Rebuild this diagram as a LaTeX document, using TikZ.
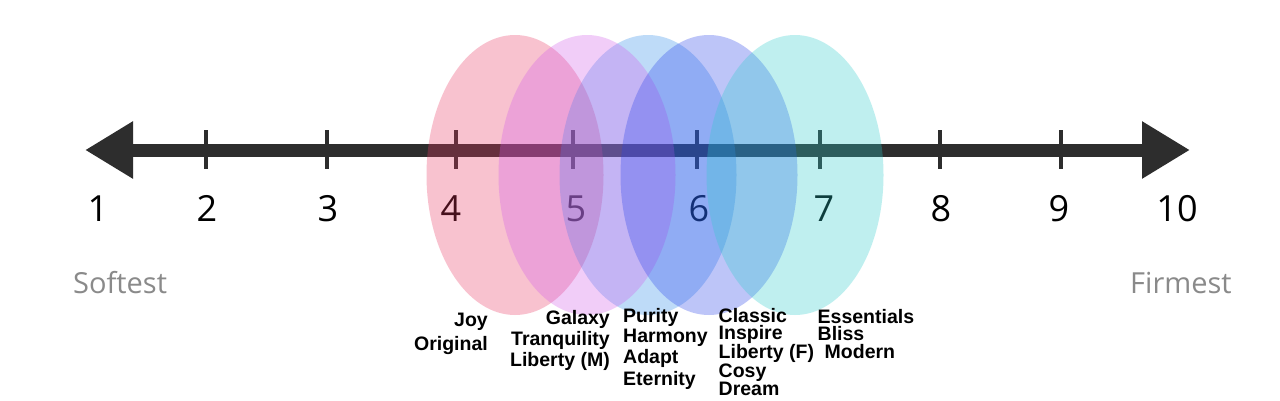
\documentclass[tikz,border=0pt]{standalone}
\usepackage{fontspec}
\setmainfont{Open Sans}
\newfontfamily\labelfont{Liberation Sans}
\usetikzlibrary{arrows.meta,shapes.geometric}

\definecolor{axisgray}{RGB}{45,45,45}
\definecolor{endgray}{RGB}{138,138,138}
\definecolor{bandpink}{RGB}{235,55,98}
\definecolor{bandviolet}{RGB}{210,90,235}
\definecolor{bandsky}{RGB}{42,138,232}
\definecolor{bandblue}{RGB}{38,65,235}
\definecolor{bandcyan}{RGB}{45,205,205}

\begin{document}
\begin{tikzpicture}[x=1pt,y=-1pt]

		\tikzstyle{axis}=[line width=13pt,color=axisgray,arrows={Triangle[length=48pt,width=54pt]-Triangle[length=48pt,width=54pt]}]
		\tikzstyle{tick}=[line width=4pt,color=axisgray]
		\tikzstyle{number}=[font=\fontsize{36}{36}\selectfont,anchor=base,inner sep=0pt]
		\tikzstyle{endlabel}=[font=\fontsize{29}{29}\selectfont,text=endgray,anchor=base west,inner sep=0pt]
		\tikzstyle{band}=[ellipse,minimum width=177pt,minimum height=280pt,inner sep=0pt,fill opacity=0.3]
		\tikzstyle{mattress}=[font=\labelfont\bfseries\fontsize{19.5}{17.5}\selectfont,inner sep=0pt]
		
		\fill[white] (0,0) rectangle (1280,400);
		\useasboundingbox (0,0) rectangle (1280,400);
		
		\coordinate (softend) at (85,150);
		\coordinate (firmend) at (1190,150);
		\draw[axis] (softend) -- (firmend);
		
		\draw[tick] (206,130) -- (206,169);
		\draw[tick] (327,130) -- (327,169);
		\draw[tick] (456,130) -- (456,169);
		\draw[tick] (573,130) -- (573,169);
		\draw[tick] (697,130) -- (697,169);
		\draw[tick] (820,130) -- (820,169);
		\draw[tick] (940,130) -- (940,169);
		\draw[tick] (1061,130) -- (1061,169);
		
		\node[number] (n1) at (98,221.5) {1};
		\node[number] (n2) at (207,221.5) {2};
		\node[number] (n3) at (328,221.5) {3};
		\node[number] (n4) at (451,221.5) {4};
		\node[number] (n5) at (576,221.5) {5};
		\node[number] (n6) at (699,221.5) {6};
		\node[number] (n7) at (824,221.5) {7};
		\node[number] (n8) at (941,221.5) {8};
		\node[number] (n9) at (1059,221.5) {9};
		\node[number] (n10) at (1177,221.5) {10};
		
		\node[endlabel] (softest) at (73,293.3) {Softest};
		\node[endlabel] (firmest) at (1130,293.3) {Firmest};
		
		\node[band,fill=bandpink] (joyband) at (515,175) {};
		\node[band,fill=bandsky] (purityband) at (648,175) {};
		\node[band,fill=bandviolet] (galaxyband) at (587,175) {};
		\node[band,fill=bandblue] (classicband) at (709,175) {};
		\node[band,fill=bandcyan] (essentialsband) at (795,175) {};
		
		% anchored at the baseline of the last line
		\node[mattress,align=right,anchor=base east] (joy) at (488,350.7) {Joy\\[4.9pt]Original};
		\node[mattress,align=right,anchor=base east] (galaxy) at (610,366.7) {Galaxy\\[1.7pt]Tranquility\\[1.7pt]Liberty (M)};
		\node[mattress,align=left,anchor=base west] (purity) at (623,385) {Purity\\[2.2pt]Harmony\\[2.2pt]Adapt\\[2.2pt]Eternity};
		\node[mattress,align=left,anchor=base west] (classic) at (718.5,395) {Classic\\Inspire\\Liberty (F)\\Cosy\\Dream};
		\node[mattress,align=left,anchor=base west] (essentials) at (817.5,358.3) {Essentials\\Bliss\\\hspace{7pt}Modern};
		
\end{tikzpicture}
\end{document}
